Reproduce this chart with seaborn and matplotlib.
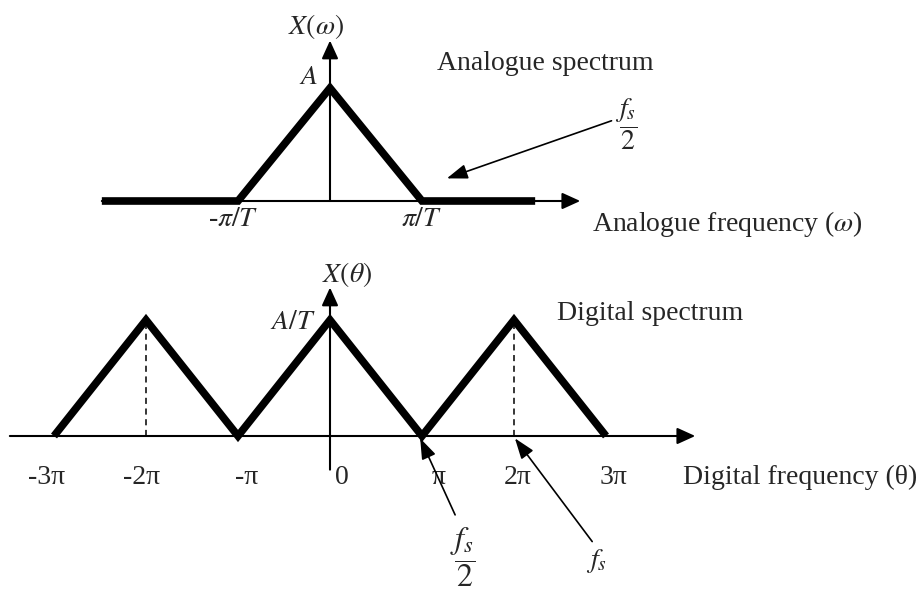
import matplotlib
matplotlib.use("Agg")
import matplotlib.pyplot as plt
import seaborn as sns

# Analogue spectrum: frequency in units of pi/T, magnitude in units of A
analog_freq = [-2.48, -1.0, 0.0, 1.0, 2.23]
analog_mag = [0.0, 0.0, 1.0, 0.0, 0.0]
analog_ticks = [-1.0, 1.0]
analog_tick_labels = [r"-$\pi/T$", r"$\pi/T$"]

# Digital spectrum: frequency in units of pi, magnitude in units of A/T
digital_freq = [-3.0, -2.0, -1.0, 0.0, 1.0, 2.0, 3.0]
digital_mag = [0.0, 1.0, 0.0, 1.0, 0.0, 1.0, 0.0]
digital_ticks = [-3.0, -2.0, -1.0, 0.0, 1.0, 2.0, 3.0]
digital_tick_labels = ["-3π", "-2π", "-π", "0", "π", "2π", "3π"]

# spectral images centred on multiples of 2*pi
image_centres = [-2.0, 2.0]
image_peak = 1.0

sns.set_theme(style="white")
plt.rcParams["font.family"] = ["Liberation Serif", "DejaVu Serif"]
plt.rcParams["mathtext.fontset"] = "stix"

W, H = 920, 590
fig = plt.figure(figsize=(W / 100, H / 100), dpi=100)
fig.patch.set_facecolor("white")

# shared horizontal scale: 92 px per frequency unit, origin at x = 330 px
PX, X0 = 92.0, 330.0
xlim = (-X0 / PX, (W - X0) / PX)

TOP_H = 250
ax_top = fig.add_axes([0, 1 - TOP_H / H, 1, TOP_H / H])
ax_top.set_xlim(xlim)
ax_top.set_ylim(-(TOP_H - 201) / 113.0, 201 / 113.0)

ax_bot = fig.add_axes([0, 0, 1, (H - TOP_H) / H])
ax_bot.set_xlim(xlim)
ax_bot.set_ylim(-(H - 436) / 116.0, (436 - TOP_H) / 116.0)

for ax in (ax_top, ax_bot):
    ax.set_axis_off()

FS = 20
THICK = 5.5
THIN = 1.5


def axis_arrow(ax, start, end):
    ax.annotate("", xy=end, xytext=start,
                arrowprops=dict(arrowstyle="-|>,head_length=0.55,head_width=0.25",
                                mutation_scale=20, lw=THIN, color="black",
                                shrinkA=0, shrinkB=0), zorder=1)


def pointer(ax, start, end):
    ax.annotate("", xy=end, xytext=start,
                arrowprops=dict(arrowstyle="-|>,head_length=0.7,head_width=0.25",
                                mutation_scale=18, lw=1.2, color="black",
                                shrinkA=0, shrinkB=0), zorder=4)


# ---------------- analogue spectrum ----------------
axis_arrow(ax_top, (analog_freq[0], 0), (2.72, 0))
axis_arrow(ax_top, (0, 0), (0, 1.42))
sns.lineplot(x=analog_freq, y=analog_mag, ax=ax_top, color="black", lw=THICK,
             estimator=None, sort=False, zorder=3,
             solid_joinstyle="miter", solid_capstyle="butt")

for t, lab in zip(analog_ticks, analog_tick_labels):
    ax_top.text(t - (0.05 if t < 0 else 0.0), -0.16, lab, fontsize=FS,
                ha="center", va="center")
ax_top.text(-0.15, 1.54, r"$X(\omega)$", fontsize=FS, ha="center", va="center")
ax_top.text(-0.23, 1.09, r"$A$", fontsize=FS, ha="center", va="center")
ax_top.text(1.16, 1.22, "Analogue spectrum", fontsize=FS, ha="left", va="center")
ax_top.text(2.85, -0.2, r"Analogue frequency ($\omega$)", fontsize=FS,
            ha="left", va="center")

pointer(ax_top, (3.06, 0.71), (1.27, 0.20))
ax_top.text(3.22, 0.68, r"$\dfrac{f_s}{2}$", fontsize=FS, ha="center", va="center")

# ---------------- digital spectrum ----------------
axis_arrow(ax_bot, (-3.48, 0), (3.97, 0))
axis_arrow(ax_bot, (0, -0.29), (0, 1.28))
for c in image_centres:
    ax_bot.plot([c, c], [0, image_peak], color="black", lw=1.1,
                ls=(0, (4, 3)), zorder=2)
sns.lineplot(x=digital_freq, y=digital_mag, ax=ax_bot, color="black", lw=THICK,
             estimator=None, sort=False, zorder=3,
             solid_joinstyle="miter", solid_capstyle="butt")

label_shift = [-0.08, -0.05, 0.09, 0.13, 0.18, 0.04, 0.08]
for t, lab, dx in zip(digital_ticks, digital_tick_labels, label_shift):
    ax_bot.text(t + dx, -0.355, lab, fontsize=FS, ha="center", va="center")
ax_bot.text(0.19, 1.39, r"$X(\theta)$", fontsize=FS, ha="center", va="center")
ax_bot.text(-0.16, 0.98, r"$A/T$", fontsize=FS, ha="right", va="center")
ax_bot.text(2.47, 1.06, "Digital spectrum", fontsize=FS, ha="left", va="center")
ax_bot.text(3.84, -0.36, "Digital frequency (θ)", fontsize=FS, ha="left", va="center")

pointer(ax_bot, (1.36, -0.68), (0.98, -0.02))
ax_bot.text(1.44, -1.04, r"$\dfrac{f_s}{2}$", fontsize=FS + 3, ha="center", va="center")
pointer(ax_bot, (2.85, -0.91), (2.01, -0.02))
ax_bot.text(2.90, -1.08, r"$f_s$", fontsize=FS, ha="center", va="center")

fig.savefig("out.png", dpi=100, facecolor="white")
